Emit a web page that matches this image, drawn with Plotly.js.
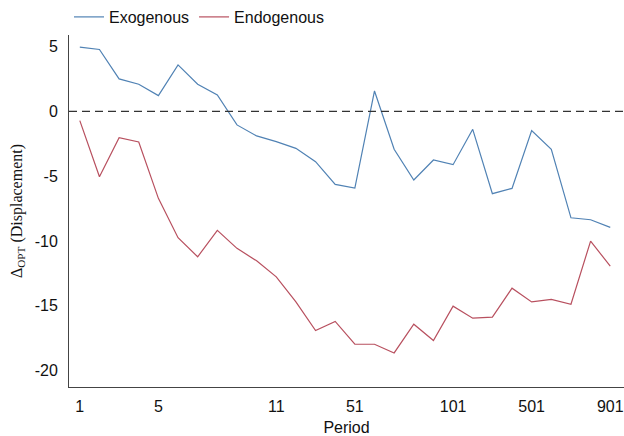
<!DOCTYPE html>
<html>
<head>
<meta charset="utf-8">
<script src="https://cdn.plot.ly/plotly-3.0.1.min.js"></script>
<style>html,body{margin:0;padding:0;background:#fff;}#chart{width:624px;height:436px;}</style>
</head>
<body>
<div id="chart"></div>
<script>
var periods = ["1","2","3","4","5","6","7","8","9","10","11","21","31","41","51","61","71","81","91","101","201","301","401","501","601","701","801","901"];
var exogenous = [4.96,4.78,2.51,2.10,1.22,3.59,2.10,1.28,-1.04,-1.89,-2.33,-2.85,-3.88,-5.63,-5.91,1.58,-2.92,-5.29,-3.75,-4.11,-1.38,-6.35,-5.94,-1.48,-2.92,-8.21,-8.36,-8.95];
var endogenous = [-0.71,-5.04,-2.02,-2.36,-6.71,-9.75,-11.22,-9.18,-10.57,-11.53,-12.77,-14.70,-16.91,-16.21,-17.97,-17.97,-18.64,-16.42,-17.68,-15.03,-15.96,-15.88,-13.64,-14.70,-14.51,-14.88,-10.01,-11.94];
var tickPeriods = ["1","5","11","51","101","501","901"];
var yTicks = [-20,-15,-10,-5,0,5];
var yTickText = ["-20","-15","-10","-5","0","5"];

var traces = [
  {x: periods, y: exogenous, type: 'scatter', mode: 'lines', name: 'Exogenous',
   line: {color: '#5082b4', width: 1.2}},
  {x: periods, y: endogenous, type: 'scatter', mode: 'lines', name: 'Endogenous',
   line: {color: '#b8505f', width: 1.2}}
];

var layout = {
  width: 624, height: 436,
  margin: {l: 69, r: 0, t: 35, b: 49},
  paper_bgcolor: '#fff', plot_bgcolor: '#fff',
  font: {family: 'Liberation Sans, Arial, sans-serif', size: 16, color: '#111'},
  showlegend: true,
  legend: {orientation: 'h', x: 0.0, xanchor: 'left', y: 1, yref: 'container', yanchor: 'top',
           font: {size: 16}, bgcolor: 'rgba(0,0,0,0)', tracegroupgap: 0},
  xaxis: {
    type: 'category', categoryorder: 'array', categoryarray: periods,
    range: [-0.55, 27.7],
    tickmode: 'array', tickvals: tickPeriods, ticktext: tickPeriods,
    showgrid: false, zeroline: false, showline: true, linecolor: '#444', linewidth: 1,
    ticks: '', ticklen: 0, ticklabelstandoff: 5,
    tickfont: {size: 16},
    title: {text: 'Period', font: {size: 16}, standoff: 11}
  },
  yaxis: {
    range: [-21.27, 5.9],
    tickmode: 'array', tickvals: yTicks, ticktext: yTickText,
    showgrid: false, zeroline: false, showline: true, linecolor: '#444', linewidth: 1,
    ticks: '', ticklen: 0, ticklabelstandoff: 7,
    tickfont: {size: 16},
    title: {text: 'Δ<sub>OPT</sub> (Displacement)', font: {family: 'Liberation Serif, Times New Roman, serif', size: 16}, standoff: 8}
  },
  shapes: [
    {type: 'line', xref: 'paper', yref: 'y', x0: 0, x1: 1, y0: 0, y1: 0,
     line: {color: '#333', width: 1.2, dash: '8px,5px'}}
  ]
};

Plotly.newPlot('chart', traces, layout, {displayModeBar: false, staticPlot: true});
</script>
</body>
</html>
